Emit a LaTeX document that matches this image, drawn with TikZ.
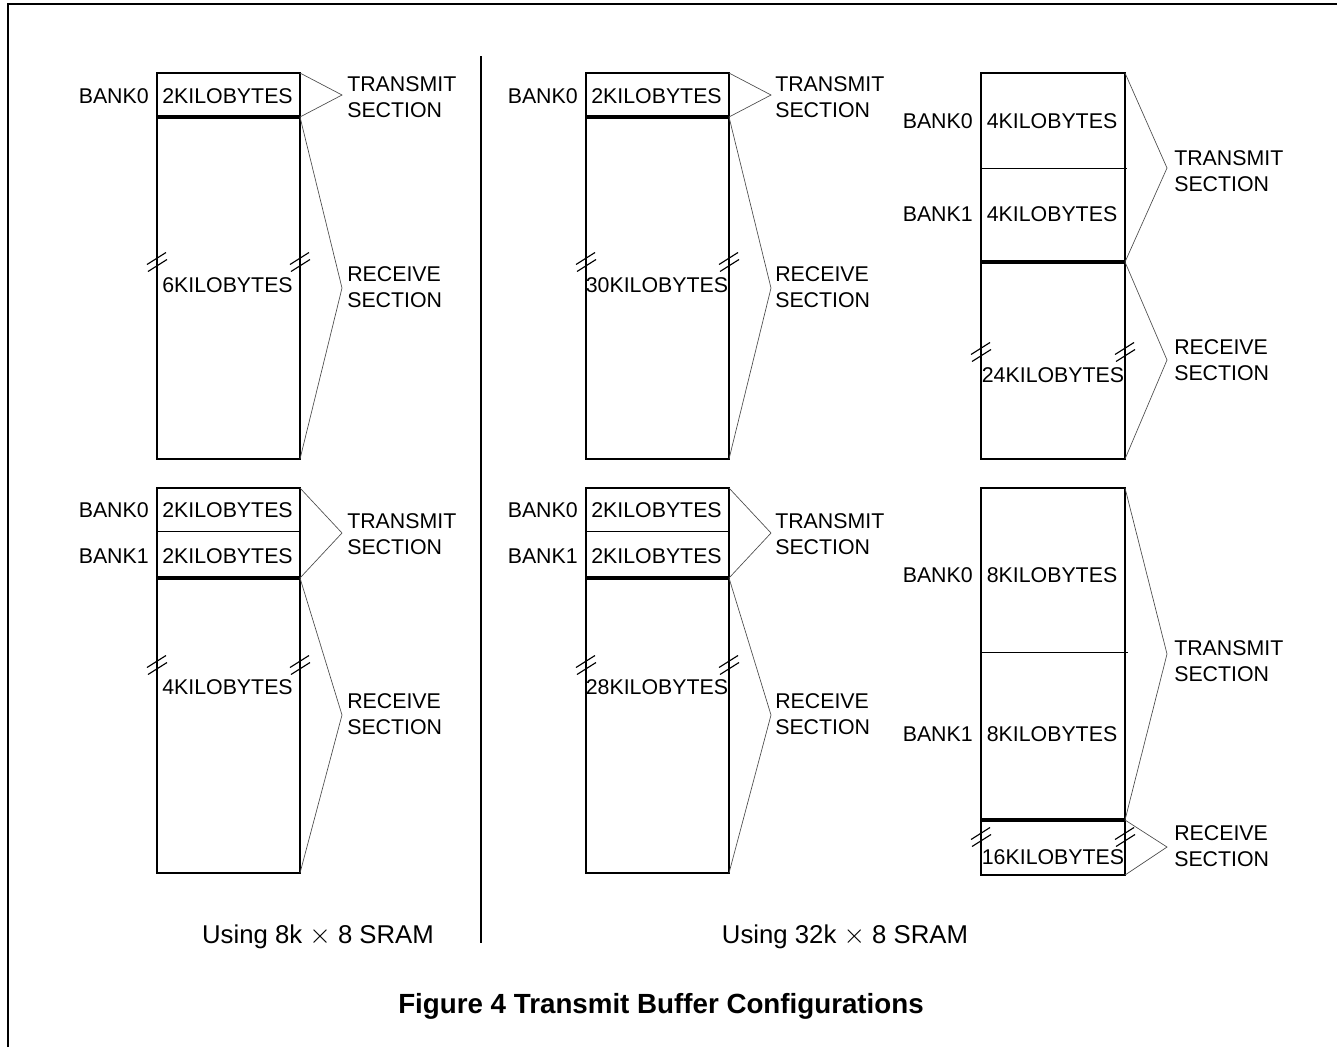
\documentclass[tikz,border=0pt]{standalone}
\usepackage{fontspec}
\setmainfont{Liberation Sans}
\begin{document}
\begin{tikzpicture}[x=0.75pt,y=-0.75pt,
  frame/.style={line width=1.5pt},
  memline/.style={line width=0.9pt},
  bankline/.style={line width=0.7pt},
  splitline/.style={line width=2.7pt},
  braceline/.style={line width=0.5pt, draw=black!70},
  brk/.style={line width=0.85pt},
  lbl/.style={inner sep=0pt, font=\fontsize{16.0}{19.5}\selectfont},
  side/.style={lbl, align=left, anchor=west},
  banklbl/.style={lbl, anchor=east},
  sub/.style={inner sep=0pt, font=\fontsize{19.3}{24}\selectfont, anchor=base},
  figtitle/.style={inner sep=0pt, font=\fontsize{20.8}{25}\selectfont\bfseries, anchor=base},
  brkmark/.pic={\draw[brk] (-10,2.5) -- (9,-9.5) (-9,9.5) -- (10,-2.5);}]
\useasboundingbox (0,0) rectangle (1337,1047);
% frame and divider
\draw[frame] (8,1047) -- (8,4) -- (1337,4);
\draw[line width=1.6pt] (481,56) -- (481,943);

% ---------- A1 : 8k, one bank ----------
\draw[memline] (157,73) rectangle (300,459);
\draw[splitline] (157,117) -- (300,117);
\node[banklbl] (a1b0) at (149,96) {BANK0};
\node[lbl] (a1k0) at (227.5,96) {2KILOBYTES};
\node[lbl] (a1rx) at (227.5,285) {6KILOBYTES};
\pic at (157,262) {brkmark};
\pic at (300,262) {brkmark};
\coordinate (a1tt) at (342,95);
\coordinate (a1rt) at (342,288);
\draw[braceline] (300,73) -- (a1tt) -- (300,117);
\draw[braceline] (300,117) -- (a1rt) -- (300,459);
\node[side] (a1tl) at (347,97) {TRANSMIT\\SECTION};
\node[side] (a1rl) at (347,287) {RECEIVE\\SECTION};

% ---------- A2 : 8k, two banks ----------
\draw[memline] (157,488) rectangle (300,873);
\draw[bankline] (157,531) -- (300,531);
\draw[splitline] (157,578) -- (300,578);
\node[banklbl] (a2b0) at (149,510) {BANK0};
\node[banklbl] (a2b1) at (149,556) {BANK1};
\node[lbl] (a2k0) at (227.5,510) {2KILOBYTES};
\node[lbl] (a2k1) at (227.5,556) {2KILOBYTES};
\node[lbl] (a2rx) at (227.5,687) {4KILOBYTES};
\pic at (157,665) {brkmark};
\pic at (300,665) {brkmark};
\coordinate (a2tt) at (342,533);
\coordinate (a2rt) at (342,715);
\draw[braceline] (300,488) -- (a2tt) -- (300,578);
\draw[braceline] (300,578) -- (a2rt) -- (300,873);
\node[side] (a2tl) at (347,534) {TRANSMIT\\SECTION};
\node[side] (a2rl) at (347,714) {RECEIVE\\SECTION};

% ---------- B1 : 32k, one bank ----------
\draw[memline] (586,73) rectangle (729,459);
\draw[splitline] (586,117) -- (729,117);
\node[banklbl] (b1b0) at (578,96) {BANK0};
\node[lbl] (b1k0) at (656.5,96) {2KILOBYTES};
\node[lbl] (b1rx) at (657,285) {30KILOBYTES};
\pic at (586,262) {brkmark};
\pic at (729,262) {brkmark};
\coordinate (b1tt) at (771,95);
\coordinate (b1rt) at (771,288);
\draw[braceline] (729,73) -- (b1tt) -- (729,117);
\draw[braceline] (729,117) -- (b1rt) -- (729,459);
\node[side] (b1tl) at (775,97) {TRANSMIT\\SECTION};
\node[side] (b1rl) at (775,287) {RECEIVE\\SECTION};

% ---------- B2 : 32k, two banks ----------
\draw[memline] (586,488) rectangle (729,873);
\draw[bankline] (586,531) -- (729,531);
\draw[splitline] (586,578) -- (729,578);
\node[banklbl] (b2b0) at (578,510) {BANK0};
\node[banklbl] (b2b1) at (578,556) {BANK1};
\node[lbl] (b2k0) at (656.5,510) {2KILOBYTES};
\node[lbl] (b2k1) at (656.5,556) {2KILOBYTES};
\node[lbl] (b2rx) at (657,687) {28KILOBYTES};
\pic at (586,665) {brkmark};
\pic at (729,665) {brkmark};
\coordinate (b2tt) at (771,533);
\coordinate (b2rt) at (771,715);
\draw[braceline] (729,488) -- (b2tt) -- (729,578);
\draw[braceline] (729,578) -- (b2rt) -- (729,873);
\node[side] (b2tl) at (775,534) {TRANSMIT\\SECTION};
\node[side] (b2rl) at (775,714) {RECEIVE\\SECTION};

% ---------- C1 : 32k, two 4K banks ----------
\draw[memline] (981,73) rectangle (1125,459);
\draw[bankline] (981,168) -- (1127,168);
\draw[splitline] (981,262) -- (1125,262);
\node[banklbl] (c1b0) at (973,121) {BANK0};
\node[banklbl] (c1b1) at (973,214) {BANK1};
\node[lbl] (c1k0) at (1052,121) {4KILOBYTES};
\node[lbl] (c1k1) at (1052,214) {4KILOBYTES};
\node[lbl] (c1rx) at (1053,375) {24KILOBYTES};
\pic at (981,352) {brkmark};
\pic at (1125,352) {brkmark};
\coordinate (c1tt) at (1167,168);
\coordinate (c1rt) at (1167,360);
\draw[braceline] (1125,73) -- (c1tt) -- (1125,262);
\draw[braceline] (1125,262) -- (c1rt) -- (1125,459);
\node[side] (c1tl) at (1174,171) {TRANSMIT\\SECTION};
\node[side] (c1rl) at (1174,360) {RECEIVE\\SECTION};

% ---------- C2 : 32k, two 8K banks ----------
\draw[memline] (981,488) rectangle (1125,875);
\draw[bankline] (981,652) -- (1128,652);
\draw[splitline] (981,820) -- (1125,820);
\node[banklbl] (c2b0) at (973,575) {BANK0};
\node[banklbl] (c2b1) at (973,734) {BANK1};
\node[lbl] (c2k0) at (1052,575) {8KILOBYTES};
\node[lbl] (c2k1) at (1052,734) {8KILOBYTES};
\node[lbl] (c2rx) at (1053,857) {16KILOBYTES};
\pic at (981,837) {brkmark};
\pic at (1125,837) {brkmark};
\coordinate (c2tt) at (1167,654);
\coordinate (c2rt) at (1167,847);
\draw[braceline] (1125,488) -- (c2tt) -- (1125,820);
\draw[braceline] (1125,820) -- (c2rt) -- (1125,875);
\node[side] (c2tl) at (1174,661) {TRANSMIT\\SECTION};
\node[side] (c2rl) at (1174,846) {RECEIVE\\SECTION};

% ---------- captions ----------
\node[sub] (capa) at (318,943) {Using 8k $\times$ 8 SRAM};
\node[sub] (capb) at (845,943) {Using 32k $\times$ 8 SRAM};
\node[figtitle] (fig) at (661,1013) {Figure 4 Transmit Buffer Configurations};
\end{tikzpicture}
\end{document}
